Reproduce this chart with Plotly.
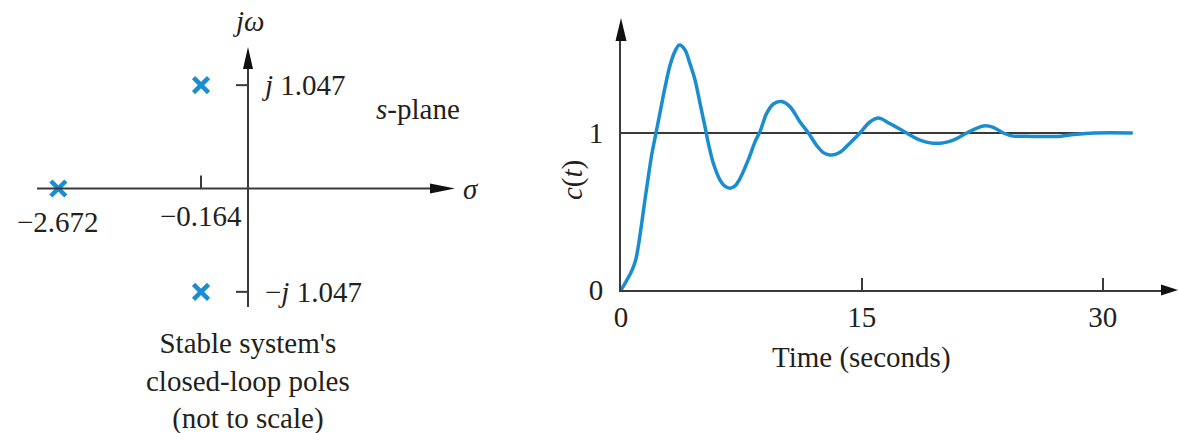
import numpy as np
import plotly.graph_objects as go

# Closed-loop poles of the stable system
pole_re = [-2.672, -0.164, -0.164]
pole_im = [0.0, 1.047, -1.047]

# Step response c(t)
t_sec = [0, 0.35, 0.66, 0.91, 1.08, 1.29, 1.49, 1.70, 1.91, 2.18, 2.43,
         2.74, 3.05, 3.36, 3.63, 3.98, 4.30, 4.61, 4.92, 5.23, 5.44, 5.75,
         6.17, 6.45, 6.79, 7.10, 7.41, 7.93, 8.35, 8.66, 9.07, 9.49, 10.0,
         10.52, 11.15, 11.67, 12.19, 12.6, 13.0, 13.4, 13.8, 14.3, 14.88,
         15.5, 16.03, 16.75, 17.79, 18.62, 19.66, 20.7, 21.53, 22.57, 23.19,
         23.81, 24.43, 24.85, 26.0, 27.4, 28.2, 29.5, 31.86]
c_t = [0, 0.06, 0.12, 0.19, 0.28, 0.425, 0.573, 0.72, 0.86, 1.0, 1.13,
       1.29, 1.43, 1.52, 1.56, 1.53, 1.44, 1.338, 1.19, 1.04, 0.934, 0.807,
       0.70, 0.663, 0.648, 0.663, 0.71, 0.83, 0.945, 1.01, 1.125, 1.185, 1.2,
       1.168, 1.07, 1.0, 0.92, 0.875, 0.86, 0.865, 0.89, 0.94, 1.0,
       1.07, 1.095, 1.06, 1.0, 0.955, 0.934, 0.955, 1.0, 1.045, 1.036,
       1.0, 0.98, 0.98, 0.978, 0.98, 0.99, 1.0, 1.0]
final_value = 1.0

t_ticks = [0, 15, 30]
c_ticks = [0, 1]

W, H = 1179, 433
FONT = "Liberation Serif"
FS = 29
INK = "#231f20"
AXIS = "#3a3a3a"
BLUE = "#1a8dd0"


def squash(v):
    """Signed square root: the pole map is drawn not to scale."""
    v = np.asarray(v, dtype=float)
    return np.sign(v) * np.sqrt(np.abs(v))


def fmt(v):
    return f"{abs(v):.3f}"


# ---- s-plane pane geometry (pixels) ----
O_X, O_Y = 248, 188.5      # origin
KX, KY = 116, 101          # pixels per squashed unit


def lx(px):
    return (px - O_X) / KX


def ly(py):
    return (O_Y - py) / KY


def px_paper(px):
    return px / W


def py_paper(py):
    return 1 - py / H


# ---- time-response pane geometry (pixels) ----
T0_PX, T_END_PX = 621, 1162
C0_PY, C_TOP_PY = 290, 40
PX_PER_S = (1102.7 - 621) / 30
PX_PER_C = 157
t_max = (T_END_PX - T0_PX) / PX_PER_S
c_max = (C0_PY - C_TOP_PY) / PX_PER_C

fig = go.Figure()

# Poles
fig.add_trace(go.Scatter(
    x=squash(pole_re), y=squash(pole_im), mode="markers",
    marker=dict(symbol="x-thin", size=15, line=dict(width=4.5, color=BLUE)),
    xaxis="x", yaxis="y", hoverinfo="skip"))

# Final-value reference line and response
fig.add_trace(go.Scatter(
    x=[t_sec[0], t_sec[-1]], y=[final_value, final_value], mode="lines",
    line=dict(color=AXIS, width=2), xaxis="x2", yaxis="y2", hoverinfo="skip"))
fig.add_trace(go.Scatter(
    x=t_sec, y=c_t, mode="lines",
    line=dict(color=BLUE, width=3.5, shape="spline", smoothing=0.9),
    xaxis="x2", yaxis="y2", hoverinfo="skip", cliponaxis=False))

shapes = []
line_style = dict(color=AXIS, width=2)
head = dict(fillcolor="#111", line=dict(width=0))

# s-plane axes
shapes.append(dict(type="line", xref="x", yref="y", x0=lx(37), x1=lx(433),
                   y0=0, y1=0, line=line_style))
shapes.append(dict(type="line", xref="x", yref="y", x0=0, x1=0,
                   y0=ly(307), y1=ly(66), line=line_style))
# arrowheads (pixel-sized)
shapes.append(dict(type="path", xref="x", yref="y", xsizemode="pixel",
                   ysizemode="pixel", xanchor=lx(430), yanchor=0,
                   path="M 0,-5 L 0,5 L 25,0 Z", **head))
shapes.append(dict(type="path", xref="x", yref="y", xsizemode="pixel",
                   ysizemode="pixel", xanchor=0, yanchor=ly(69),
                   path="M -5,0 L 5,0 L 0,22 Z", **head))
# tick on the real axis at the complex pair's real part
shapes.append(dict(type="line", xref="x", yref="y", ysizemode="pixel",
                   yanchor=0, x0=float(squash(pole_re[1])),
                   x1=float(squash(pole_re[1])), y0=0, y1=13,
                   line=line_style))
# ticks on the imaginary axis
for im in pole_im[1:]:
    shapes.append(dict(type="line", xref="x", yref="y", xsizemode="pixel",
                       xanchor=0, x0=-12, x1=0, y0=float(squash(im)),
                       y1=float(squash(im)), line=line_style))

# arrowheads at the ends of the time-response axes
shapes.append(dict(type="path", xref="paper", yref="paper", xsizemode="pixel",
                   ysizemode="pixel", xanchor=px_paper(T0_PX),
                   yanchor=py_paper(C_TOP_PY),
                   path="M -5.5,-1 L 5.5,-1 L 0,22 Z", **head))
shapes.append(dict(type="path", xref="paper", yref="paper", xsizemode="pixel",
                   ysizemode="pixel", xanchor=px_paper(T_END_PX),
                   yanchor=py_paper(C0_PY),
                   path="M -1,-5.5 L -1,5.5 L 16,0 Z", **head))

font = dict(family=FONT, size=FS, color=INK)
ann = []


def text(x, y, s, xref="x", yref="y", xanchor="center", yanchor="middle",
         **kw):
    ann.append(dict(x=x, y=y, xref=xref, yref=yref, text=s, showarrow=False,
                    xanchor=xanchor, yanchor=yanchor, font=font, **kw))


# s-plane labels
text(0, ly(21), "<i>jω</i>")
text(lx(259), float(squash(pole_im[1])), f"<i>j</i> {fmt(pole_im[1])}",
     xanchor="left")
text(lx(263), float(squash(pole_im[2])), f"−<i>j</i> {fmt(pole_im[2])}",
     xanchor="left")
text(lx(374), ly(109), "<i>s</i>-plane", xanchor="left")
text(lx(461), 0, "<i>σ</i>", xanchor="left")
text(float(squash(pole_re[0])), ly(222), f"−{fmt(pole_re[0])}")
text(float(squash(pole_re[1])), ly(216), f"−{fmt(pole_re[1])}")
text(lx(248), ly(381),
     "Stable system's<br>closed-loop poles<br>(not to scale)")

# time-response labels
text(px_paper(861), py_paper(357), "Time (seconds)", xref="paper",
     yref="paper")
text(px_paper(572), py_paper(180), "<i>c</i>(<i>t</i>)", xref="paper",
     yref="paper", textangle=-90)

fig.update_layout(
    template="none",
    width=W, height=H,
    margin=dict(l=0, r=0, t=0, b=0, pad=0, autoexpand=False),
    paper_bgcolor="white", plot_bgcolor="rgba(0,0,0,0)",
    showlegend=False, shapes=shapes, annotations=ann,
    font=font,
    xaxis=dict(domain=[0, 1], range=[lx(0), lx(W)], visible=False,
               fixedrange=True, automargin=False),
    yaxis=dict(domain=[0, 1], range=[ly(H), ly(0)], visible=False,
               fixedrange=True, automargin=False),
    xaxis2=dict(domain=[T0_PX / W, T_END_PX / W], range=[0, t_max],
                anchor="y2", showline=True, linecolor=AXIS, linewidth=2,
                showgrid=False, zeroline=False, ticks="inside",
                tickvals=t_ticks, ticklen=12, tickwidth=2, tickcolor=AXIS,
                ticklabelstandoff=0, tickfont=font, automargin=False),
    yaxis2=dict(domain=[1 - C0_PY / H, 1 - C_TOP_PY / H], range=[0, c_max],
                anchor="x2", showline=True, linecolor=AXIS, linewidth=2,
                showgrid=False, zeroline=False, ticks="",
                tickvals=c_ticks, ticklabelstandoff=10, tickfont=font,
                automargin=False),
)

fig.write_html("out.html")
